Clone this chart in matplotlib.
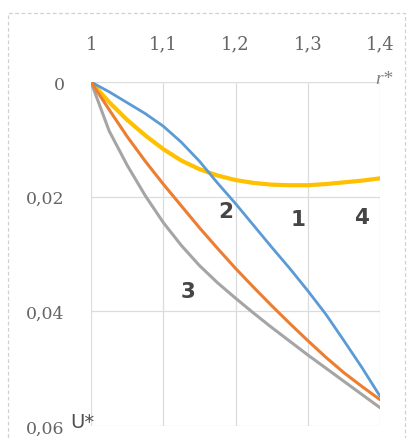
import matplotlib
matplotlib.use('Agg')
import matplotlib.pyplot as plt
from matplotlib.patches import Rectangle

# r* values (same grid for all curves)
r = [1.0, 1.025, 1.05, 1.075, 1.1, 1.125, 1.15, 1.175, 1.2,
     1.225, 1.25, 1.275, 1.3, 1.325, 1.35, 1.375, 1.4]

# U* curves
u1 = [0, 0.0017, 0.0036, 0.0055, 0.0077, 0.0105, 0.0138, 0.0176, 0.0212,
      0.025, 0.0288, 0.0325, 0.0364, 0.0405, 0.0451, 0.0498, 0.0548]
u2 = [0, 0.0048, 0.0095, 0.0138, 0.0178, 0.0216, 0.0254, 0.029, 0.0325,
      0.0358, 0.039, 0.0421, 0.0451, 0.048, 0.0507, 0.0531, 0.0554]
u3 = [0, 0.0085, 0.0145, 0.0198, 0.0245, 0.0285, 0.032, 0.035, 0.0377,
      0.0403, 0.0428, 0.0452, 0.0476, 0.0499, 0.0522, 0.0545, 0.0568]
u4 = [0, 0.0035, 0.0066, 0.0093, 0.0117, 0.0137, 0.0152, 0.0163, 0.0171,
      0.0176, 0.0179, 0.018, 0.018, 0.0178, 0.0175, 0.0172, 0.0168]

xticks = [1, 1.1, 1.2, 1.3, 1.4]
xlabels = ['1', '1,1', '1,2', '1,3', '1,4']
yticks = [0, 0.02, 0.04, 0.06]
ylabels = ['0', '0,02', '0,04', '0,06']

# curve labels: text, r*, U*
curve_labels = [('2', 1.186, 0.0225), ('1', 1.287, 0.0239),
                ('4', 1.374, 0.0236), ('3', 1.134, 0.0365)]

fig = plt.figure(figsize=(4.09, 4.39), dpi=100)
ax = fig.add_axes([0.2225, 0.0273, 0.7066, 0.7836])

ax.plot(r, u1, color='#5B9BD5', lw=2.0, solid_capstyle='round', zorder=3)
ax.plot(r, u2, color='#ED7D31', lw=2.2, solid_capstyle='round', zorder=3)
ax.plot(r, u3, color='#A5A5A5', lw=2.2, solid_capstyle='round', zorder=2)
ax.plot(r, u4, color='#FFC000', lw=3.0, solid_capstyle='round', zorder=2)

ax.set_xlim(1, 1.4)
ax.set_ylim(0.06, 0)
ax.xaxis.tick_top()
ax.set_xticks(xticks)
ax.set_xticklabels(xlabels)
ax.set_yticks(yticks)
ax.set_yticklabels(ylabels)
ax.tick_params(axis='x', length=0, pad=21, labelsize=13, labelcolor='#666666')
ax.tick_params(axis='y', length=0, pad=19, labelsize=12.5, labelcolor='#666666')
for lab in ax.get_xticklabels() + ax.get_yticklabels():
    lab.set_fontfamily('DejaVu Serif')

ax.grid(True, color='#dcdcdc', lw=0.9)
ax.set_axisbelow(True)
for s in ax.spines.values():
    s.set_visible(False)

for txt, x, y in curve_labels:
    ax.text(x, y, txt, fontsize=15.5, fontweight='bold', color='#454545',
            ha='center', va='center')

ax.text(1.405, -0.0006, 'r*', fontsize=14, color='#808080', style='italic',
        family='Liberation Serif', ha='center', va='center', clip_on=False)
ax.text(0.9875, 0.0592, 'U*', fontsize=14, color='#505050',
        ha='center', va='center', clip_on=False)

# faint dashed frame around the whole chart
fig.patches.append(Rectangle((8 / 409, -0.01), 397 / 409, 0.978, transform=fig.transFigure,
                             fill=False, ec='#d0d0d0', lw=0.9, ls=(0, (3, 2))))

fig.savefig('out.png', dpi=100)
